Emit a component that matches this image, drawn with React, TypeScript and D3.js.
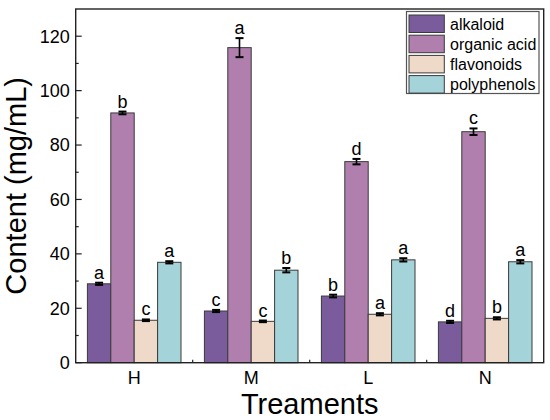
import React from "react";
import * as d3 from "d3";

const categories = ["H", "M", "L", "N"];
const seriesNames = ["alkaloid", "organic acid", "flavonoids", "polyphenols"];
const alkaloid = [29.0, 19.0, 24.5, 15.0];
const organicAcid = [91.8, 115.8, 73.9, 84.9];
const flavonoids = [15.6, 15.2, 17.8, 16.3];
const polyphenols = [36.9, 34.0, 37.8, 37.1];
const alkaloidErr = [0.4, 0.4, 0.5, 0.4];
const organicAcidErr = [0.5, 3.5, 1.0, 1.2];
const flavonoidsErr = [0.3, 0.3, 0.4, 0.4];
const polyphenolsErr = [0.4, 0.8, 0.6, 0.6];
const alkaloidSig = ["a", "c", "b", "d"];
const organicAcidSig = ["b", "a", "d", "c"];
const flavonoidsSig = ["c", "c", "a", "b"];
const polyphenolsSig = ["a", "b", "a", "a"];
const yTicks = [0, 20, 40, 60, 80, 100, 120];
const yMinorTicks = [10, 30, 50, 70, 90, 110, 130];
const colors = ["#7a5c9c", "#b07fae", "#efd9c8", "#a5d3da"];

const values = [alkaloid, organicAcid, flavonoids, polyphenols];
const errors = [alkaloidErr, organicAcidErr, flavonoidsErr, polyphenolsErr];
const sigs = [alkaloidSig, organicAcidSig, flavonoidsSig, polyphenolsSig];

const W = 550;
const H = 420;
const left = 75.7;
const right = 543.7;
const top = 9;
const bottom = 362.7;
const font = "'Liberation Sans', Arial, sans-serif";

export default function App() {
  const x = d3.scaleBand<string>().domain(categories).range([left, right]).paddingInner(0).paddingOuter(0);
  const inner = d3.scaleBand<string>().domain(seriesNames).range([0, x.bandwidth()]).paddingInner(0).paddingOuter(0.5);
  const y = d3.scaleLinear().domain([0, 130]).range([bottom, top]);
  const bw = inner.bandwidth();

  const bars: React.ReactNode[] = [];
  const errs: React.ReactNode[] = [];
  const labels: React.ReactNode[] = [];
  categories.forEach((c, ci) => {
    seriesNames.forEach((s, si) => {
      const v = values[si][ci];
      const e = errors[si][ci];
      const bx = (x(c) as number) + (inner(s) as number);
      const cx = bx + bw / 2;
      bars.push(
        <rect key={`b${ci}-${si}`} x={bx} y={y(v)} width={bw} height={y(0) - y(v)}
          fill={colors[si]} stroke="#3a3a3a" strokeWidth={1} />
      );
      errs.push(
        <g key={`e${ci}-${si}`} stroke="#000" strokeWidth={1.6}>
          <line x1={cx} x2={cx} y1={y(v + e)} y2={y(v - e)} />
          <line x1={cx - 4} x2={cx + 4} y1={y(v + e)} y2={y(v + e)} strokeWidth={2} />
          <line x1={cx - 4} x2={cx + 4} y1={y(v - e)} y2={y(v - e)} strokeWidth={2} />
        </g>
      );
      labels.push(
        <text key={`t${ci}-${si}`} x={cx} y={y(v + e) - 4} textAnchor="middle"
          fontSize={18} fontFamily={font} fill="#000">{sigs[si][ci]}</text>
      );
    });
  });

  const boundaries = categories.slice(1).map((c) => x(c) as number);

  return (
    <svg width={W} height={H} style={{ position: "absolute", left: 0, top: 0, background: "#fff" }}>
      <rect x={0} y={0} width={W} height={H} fill="#fff" />
      {bars}
      {errs}
      {labels}
      {/* frame */}
      <rect x={left} y={top} width={right - left} height={bottom - top} fill="none" stroke="#222" strokeWidth={1.4} />
      {/* y ticks */}
      {yTicks.map((t) => (
        <g key={`yt${t}`}>
          <line x1={left} x2={left + 6} y1={y(t)} y2={y(t)} stroke="#222" strokeWidth={1.2} />
          <text x={left - 6} y={y(t)} dy="0.35em" textAnchor="end" fontSize={18} fontFamily={font} fill="#000">{t}</text>
        </g>
      ))}
      {yMinorTicks.filter((t) => t < 130).map((t) => (
        <line key={`ym${t}`} x1={left} x2={left + 3} y1={y(t)} y2={y(t)} stroke="#222" strokeWidth={1.2} />
      ))}
      {/* x ticks */}
      {boundaries.map((b, i) => (
        <line key={`xm${i}`} x1={b} x2={b} y1={bottom} y2={bottom - 3} stroke="#222" strokeWidth={1.2} />
      ))}
      {categories.map((c) => (
        <text key={`xl${c}`} x={(x(c) as number) + x.bandwidth() / 2} y={384} textAnchor="middle"
          fontSize={18} fontFamily={font} fill="#000">{c}</text>
      ))}
      {/* axis titles */}
      <text x={(left + right) / 2} y={413.5} textAnchor="middle" fontSize={29} fontFamily={font} fill="#000">Treaments</text>
      <text transform={`translate(26, ${(top + bottom) / 2}) rotate(-90)`} textAnchor="middle"
        fontSize={29} fontFamily={font} fill="#000">Content (mg/mL)</text>
      {/* legend */}
      <g>
        <rect x={406.5} y={11.5} width={132.5} height={82} fill="#fff" stroke="#555" strokeWidth={1.2} />
        {seriesNames.map((s, i) => (
          <g key={`lg${s}`} transform={`translate(409, ${15 + i * 20.2})`}>
            <rect x={0} y={0} width={35.3} height={17.5} fill={colors[i]} stroke="#3a3a3a" strokeWidth={1} />
            <text x={41} y={8.9} dy="0.35em" fontSize={16} fontFamily={font} fill="#000">{s}</text>
          </g>
        ))}
      </g>
    </svg>
  );
}
